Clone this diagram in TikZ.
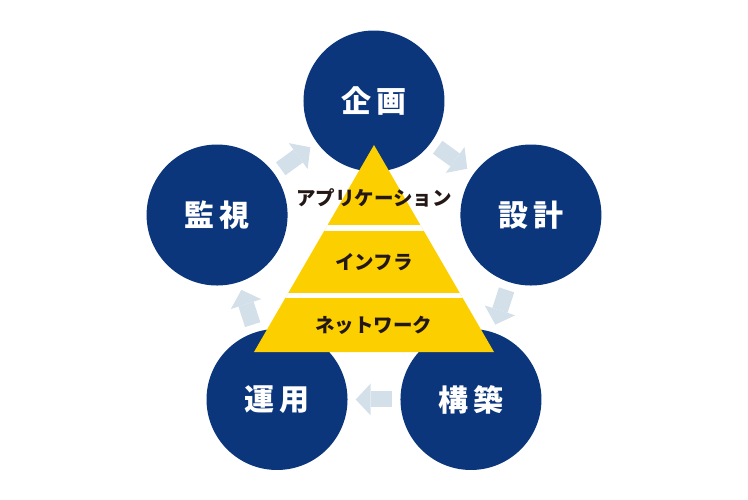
\documentclass[tikz,border=0pt]{standalone}
\usepackage{fontspec}
\newfontfamily\jpfont{Noto Sans CJK JP}
\usetikzlibrary{arrows.meta}
\definecolor{phaseblue}{HTML}{0B367C}
\definecolor{pyryellow}{HTML}{FCD000}
\definecolor{flowgray}{HTML}{D3E0EA}
\definecolor{inkdark}{HTML}{231815}

\begin{document}
\begin{tikzpicture}[x=1pt, y=1pt,
  phase/.style={circle, fill=phaseblue, minimum size=141pt, inner sep=0pt, text=white,
    font=\jpfont\bfseries\fontsize{30}{30}\selectfont},
  flow/.style={line width=16pt, flowgray, shorten <=8pt, shorten >=8pt,
    -{Triangle[length=15pt, width=32pt, line width=0pt]}},
  layer/.style={font=\jpfont\bfseries\fontsize{19.5}{19.5}\selectfont, text=inkdark, inner sep=0pt}]

\useasboundingbox (-374,-233) rectangle (374,266);

% Cycle of phases
\node[phase] (plan)    at (90:165)   {企\,画};
\node[phase] (design)  at (18:165)   {設\,計};
\node[phase] (build)   at (-54:165)  {構\,築};
\node[phase] (operate) at (-126:165) {運\,用};
\node[phase] (monitor) at (162:165)  {監\,視};

% Flow arrows
\draw[flow] (plan) -- (design);
\draw[flow] (design) -- (build);
\draw[flow] (build) -- (operate);
\draw[flow] (operate) -- (monitor);
\draw[flow] (monitor) -- (plan);

% Pyramid of layers
\fill[pyryellow] (0,121) coordinate (apex) -- (120,-86) coordinate (baseR)
  -- (-120,-86) coordinate (baseL) -- cycle;
\begin{scope}
  \clip (apex) -- (baseR) -- (baseL) -- cycle;
  \draw[white, line width=6pt] (-130,38) -- (130,38);
  \draw[white, line width=5pt] (-130,-29.5) -- (130,-29.5);
\end{scope}

\node[layer] (app)   at (0,68)  {アプリケーション};
\node[layer] (infra) at (0,4)   {インフラ};
\node[layer] (net)   at (0,-59) {ネットワーク};

\end{tikzpicture}
\end{document}
